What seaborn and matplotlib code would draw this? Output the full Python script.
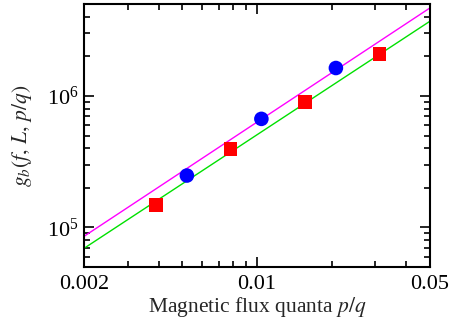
import matplotlib
matplotlib.use("Agg")
import matplotlib.pyplot as plt
import matplotlib.ticker as mticker
import seaborn as sns
import pandas as pd

# data
red_x = [1/256, 1/128, 1/64, 1/32]
red_y = [1.49e5, 3.97e5, 9.0e5, 2.08e6]
blue_x = [1/192, 1/96, 1/48]
blue_y = [2.48e5, 6.69e5, 1.63e6]
fit_x = [0.002, 0.05]
magenta_y = [8.55e4, 4.67e6]
green_y = [6.93e4, 3.70e6]
xtick_vals = [0.002, 0.01, 0.05]
xtick_labels = ["0.002", "0.01", "0.05"]

sns.set_style("ticks")
plt.rcParams["font.family"] = ["Liberation Serif", "DejaVu Serif"]
plt.rcParams["mathtext.fontset"] = "stix"

fig = plt.figure(figsize=(4.5, 3.18), dpi=100)
ax = fig.add_axes([84/450, 1-267/318, 346/450, 263/318])

ax.set_xscale("log")
ax.set_yscale("log")

df_m = pd.DataFrame({"x": fit_x, "y": magenta_y})
df_g = pd.DataFrame({"x": fit_x, "y": green_y})
sns.lineplot(data=df_m, x="x", y="y", color="#ff00ff", lw=1.0, ax=ax, zorder=2)
sns.lineplot(data=df_g, x="x", y="y", color="#00e000", lw=1.0, ax=ax, zorder=2)

df_r = pd.DataFrame({"x": red_x, "y": red_y})
df_b = pd.DataFrame({"x": blue_x, "y": blue_y})
sns.scatterplot(data=df_r, x="x", y="y", marker="s", s=100, color="#ff0000",
                edgecolor="none", ax=ax, zorder=3)
sns.scatterplot(data=df_b, x="x", y="y", marker="o", s=110, color="#0000ff",
                edgecolor="none", ax=ax, zorder=3)

ax.set_xlim(0.002, 0.05)
ax.set_ylim(5e4, 5e6)

ax.xaxis.set_major_locator(mticker.FixedLocator(xtick_vals))
ax.xaxis.set_major_formatter(mticker.FixedFormatter(xtick_labels))
ax.xaxis.set_minor_locator(mticker.LogLocator(base=10, subs=range(2, 10)))
ax.xaxis.set_minor_formatter(mticker.NullFormatter())
ax.yaxis.set_major_locator(mticker.LogLocator(base=10))
ax.yaxis.set_major_formatter(mticker.LogFormatterMathtext())
ax.yaxis.set_minor_locator(mticker.LogLocator(base=10, subs=range(2, 10)))
ax.yaxis.set_minor_formatter(mticker.NullFormatter())

ax.tick_params(which="both", direction="in", top=True, right=True,
               width=1.2, colors="black", labelsize=16)
ax.tick_params(which="major", length=7)
ax.tick_params(which="minor", length=4)
ax.tick_params(axis="x", which="major", pad=6)
ax.tick_params(axis="y", which="major", pad=4)
for sp in ax.spines.values():
    sp.set_linewidth(1.5)
    sp.set_color("black")

ax.set_xlabel("Magnetic flux quanta $p/q$", fontsize=15.5, labelpad=0.5)
ax.set_ylabel(r"$g_b(f,\,L,\,p/q)$", fontsize=15.5, labelpad=9)

fig.savefig("out.png", dpi=100)
